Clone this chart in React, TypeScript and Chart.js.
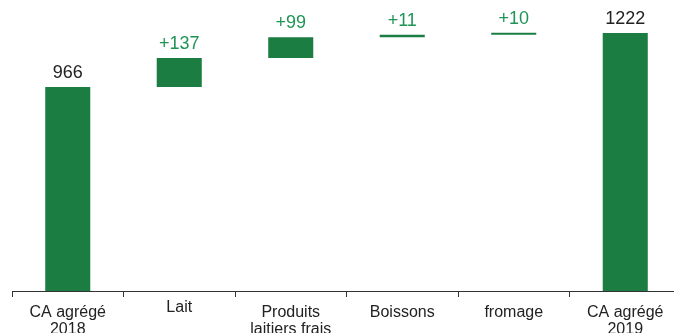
import React, { useEffect, useRef } from "react";
import { Chart, registerables } from "chart.js";

Chart.register(...registerables);

const categories: string[][] = [
  ["CA agrégé", "2018"],
  ["Lait"],
  ["Produits", "laitiers frais"],
  ["Boissons"],
  ["fromage"],
  ["CA agrégé", "2019"],
];
const values: number[] = [966, 137, 99, 11, 10, 1222];
const isTotal: boolean[] = [true, false, false, false, false, true];
const valueLabels: string[] = ["966", "+137", "+99", "+11", "+10", "1222"];

const BAR_COLOR = "#1b7d42";
const DELTA_TEXT = "#1f9456";
const TOTAL_TEXT = "#222222";
const FONT = "'Liberation Sans', Arial, Helvetica, sans-serif";

function buildRanges(): [number, number][] {
  let running = 0;
  return values.map((v, i) => {
    if (isTotal[i]) {
      running = v;
      return [0, v];
    }
    const r: [number, number] = [running, running + v];
    running += v;
    return r;
  });
}

const labelsPlugin = {
  id: "wfLabels",
  afterDatasetsDraw(chart: any) {
    const ctx = chart.ctx;
    const meta = chart.getDatasetMeta(0);
    ctx.save();
    ctx.textAlign = "center";
    ctx.textBaseline = "alphabetic";
    ctx.font = `18px ${FONT}`;
    meta.data.forEach((bar: any, i: number) => {
      const top = Math.min(bar.y, bar.base);
      ctx.fillStyle = isTotal[i] ? TOTAL_TEXT : DELTA_TEXT;
      ctx.fillText(valueLabels[i], bar.x, top - 9);
    });
    const xs = chart.scales.x;
    ctx.font = `16px ${FONT}`;
    ctx.fillStyle = TOTAL_TEXT;
    categories.forEach((lines, i) => {
      const x = xs.getPixelForValue(i);
      const lift = i === 1 ? 5 : 0;
      lines.forEach((line, j) => {
        ctx.fillText(line, x, xs.top + 26 - lift + j * 17);
      });
    });
    ctx.restore();
  },
};

export default function App() {
  const ref = useRef<HTMLCanvasElement | null>(null);
  useEffect(() => {
    if (!ref.current) return;
    const chart = new Chart(ref.current, {
      type: "bar",
      data: {
        labels: categories.map((c) => c.join(" ")),
        datasets: [
          {
            data: buildRanges() as any,
            backgroundColor: BAR_COLOR,
            borderWidth: 0,
            barPercentage: 0.404,
            categoryPercentage: 1,
          },
        ],
      },
      options: {
        animation: false,
        responsive: false,
        layout: { padding: { left: 12, right: 9, top: 0, bottom: 0 } },
        plugins: { legend: { display: false }, tooltip: { enabled: false } },
        scales: {
          x: {
            grid: {
              offset: true,
              drawOnChartArea: false,
              drawTicks: true,
              tickLength: 6,
              color: "#333333",
              lineWidth: 1,
            },
            border: { display: true, color: "#333333", width: 1 },
            ticks: { display: false },
            afterFit: (scale: any) => {
              scale.height = 42;
            },
          },
          y: {
            display: false,
            min: 0,
            max: 1378,
          },
        },
      },
      plugins: [labelsPlugin],
    });
    return () => chart.destroy();
  }, []);
  return (
    <div
      style={{
        position: "absolute",
        left: 0,
        top: 0,
        width: 674,
        height: 333,
        overflow: "hidden",
        background: "#fff",
      }}
    >
      <canvas ref={ref} width={690} height={333} style={{ display: "block" }} />
    </div>
  );
}
